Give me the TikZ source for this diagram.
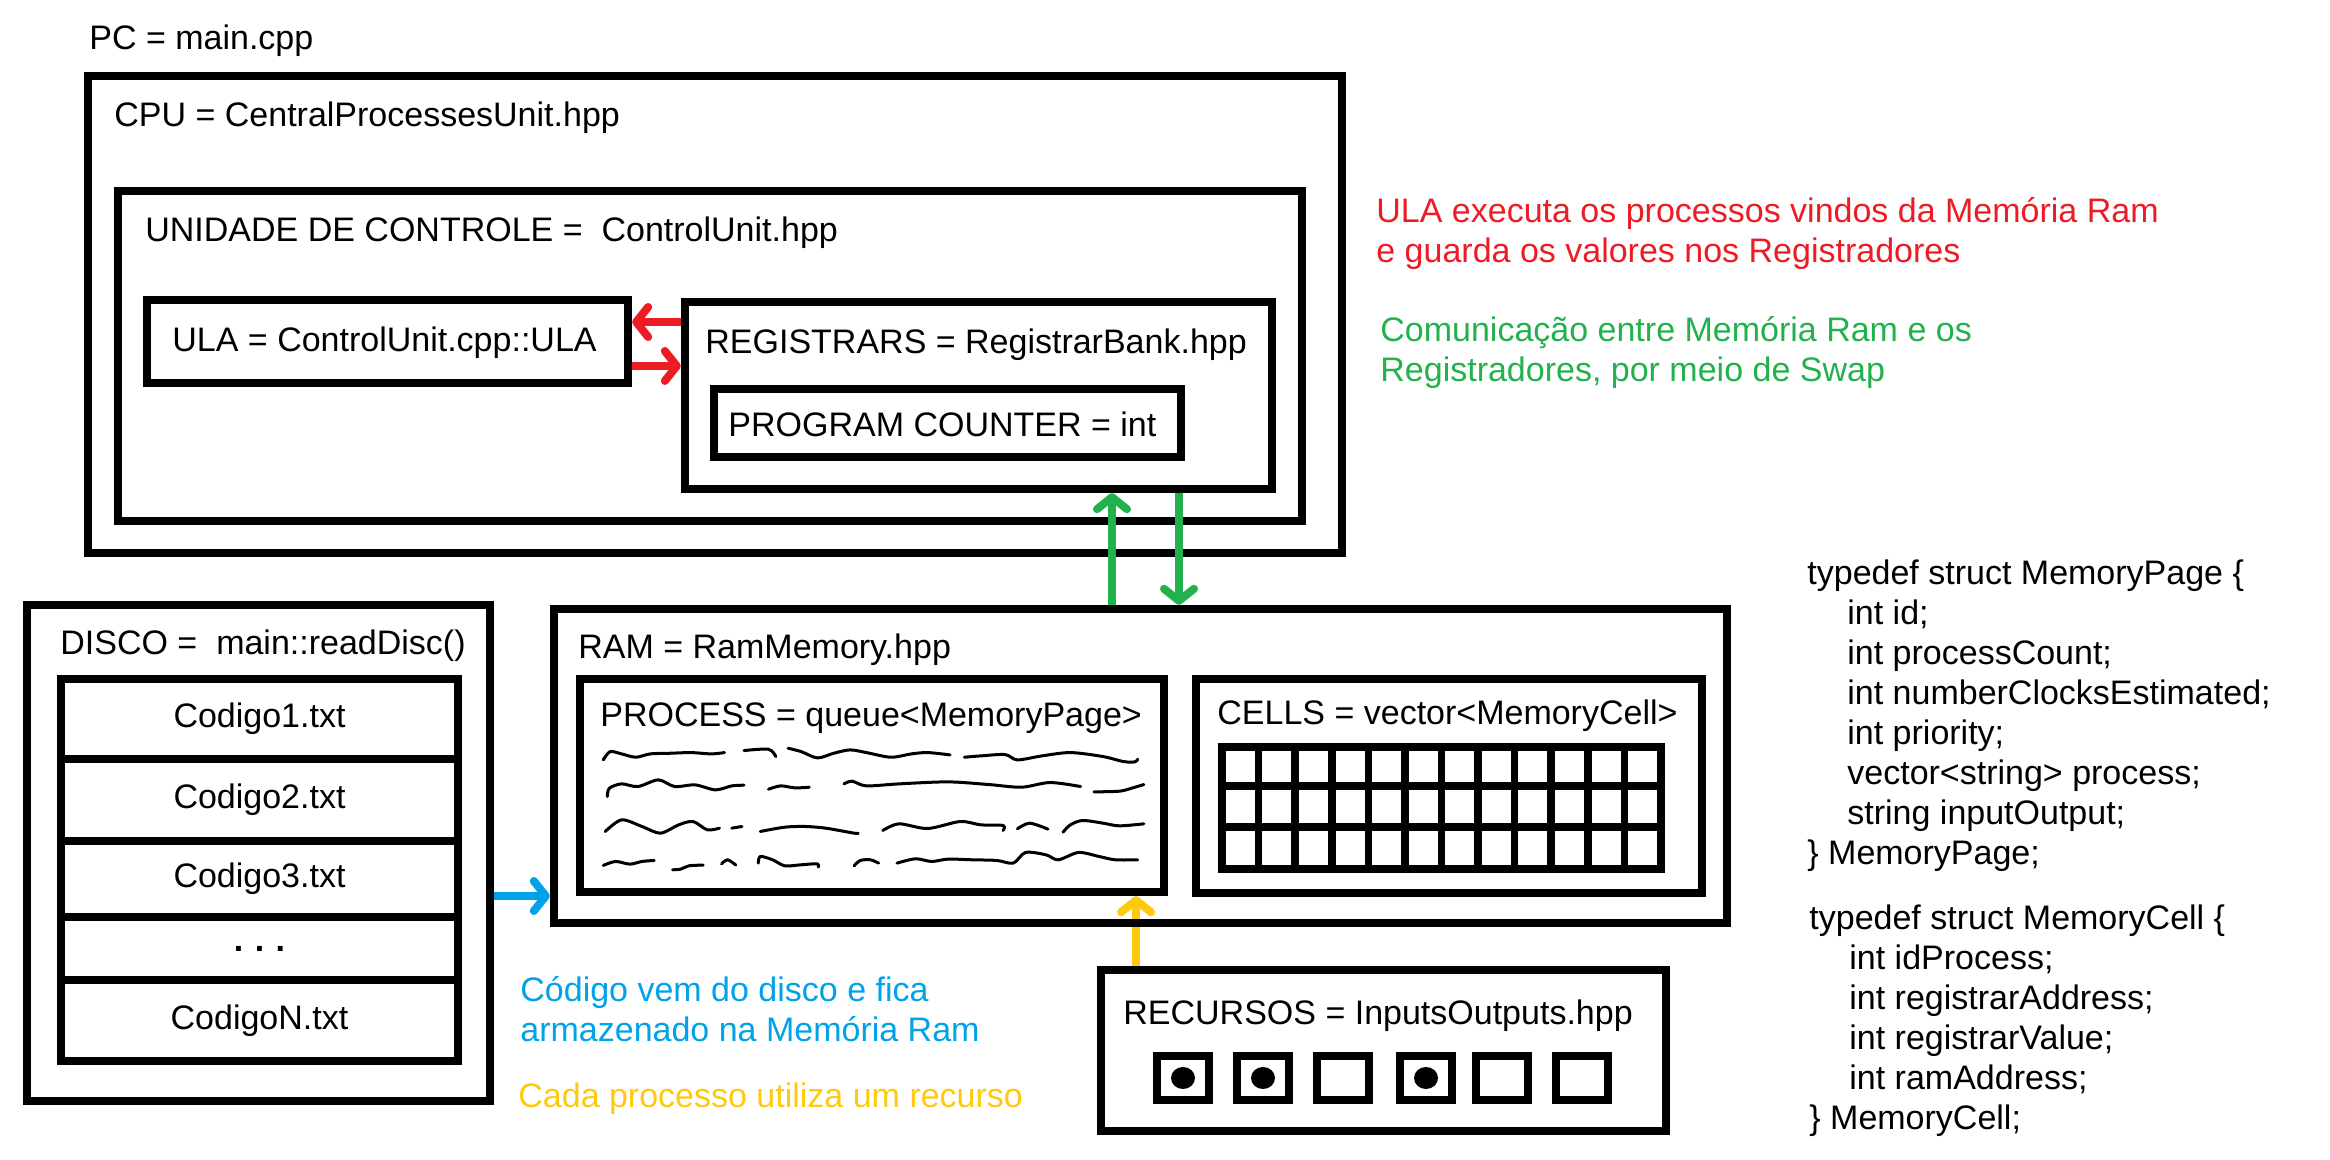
\documentclass[tikz,border=0pt]{standalone}
\usepackage{fontspec}
\setmainfont{Liberation Sans}
\usetikzlibrary{arrows.meta, fit, backgrounds, shapes.geometric}
\definecolor{paintRed}{HTML}{ED1C24}
\definecolor{paintGreen}{HTML}{22B14C}
\definecolor{paintBlue}{HTML}{00A2E8}
\definecolor{paintYellow}{HTML}{FFC90E}
\tikzset{
  box/.style={draw, line width=4.2pt, inner sep=0pt, font=\fontsize{17}{20}\selectfont},
  fileRow/.style={box, minimum width=198.5pt},
  lbl/.style={anchor=base west, inner sep=0pt, font=\fontsize{17}{20}\selectfont},
  note/.style={lbl, align=left},
  flow/.style={line width=4pt, -{Straight Barb[length=6pt,width=15pt,round]}},
  gridline/.style={line width=3.8pt},
  slot/.style={draw, line width=3.8pt, minimum width=26.25pt, minimum height=21.75pt, inner sep=0pt},
  dot/.style={fill, ellipse, minimum width=12pt, minimum height=11pt, inner sep=0pt},
  scribble/.style={line width=1.5pt, line cap=round, line join=round}
}

\begin{document}
\begin{tikzpicture}[x=0.5pt,y=-0.5pt]
  \useasboundingbox (0,0) rectangle (2330,1160);

  \node[lbl] (pcLabel) at (89,50) {PC = main.cpp};

  \node[box, fit={(88,76) (1342,553)}] (cpu) {};
  \node[lbl] (cpuLabel) at (114,127) {CPU = CentralProcessesUnit.hpp};

  \node[box, fit={(118,191) (1302,521)}] (cu) {};
  \node[lbl] (cuLabel) at (145,242) {UNIDADE DE CONTROLE = \ ControlUnit.hpp};

  \node[box, fit={(147,300) (628,383)}] (ula) {};
  \node[lbl] (ulaLabel) at (172,352) {ULA = ControlUnit.cpp::ULA};

  \node[box, fit={(685,302) (1272,489)}] (reg) {};
  \node[lbl] (regLabel) at (705,354) {REGISTRARS = RegistrarBank.hpp};

  \node[box, fit={(714,389) (1181,457)}] (pcnt) {};
  \node[lbl] (pcntLabel) at (728,437) {PROGRAM COUNTER = int};

  \node[box, fit={(27,605) (490,1101)}] (disco) {};
  \node[lbl] (discoLabel) at (60,654) {DISCO = \ main::readDisc()};

  \node[fileRow, minimum height=40pt] (f1) at (259.5,719) {Codigo1.txt};
  \node[fileRow, minimum height=41pt] (f2) at (259.5,800) {Codigo2.txt};
  \node[fileRow, minimum height=38pt] (f3) at (259.5,879) {Codigo3.txt};
  \node[fileRow, minimum height=31.5pt] (f4) at (259.5,948.5) {\textbf{.\,\,.\,\,.}};
  \node[fileRow, minimum height=40.5pt] (fN) at (259.5,1020.5) {CodigoN.txt};

  \node[box, fit={(554,609) (1727,923)}] (ram) {};
  \node[lbl] (ramLabel) at (578,658) {RAM = RamMemory.hpp};

  \node[box, fit={(580,679) (1164,892)}] (process) {};
  \node[lbl] (processLabel) at (600,726) {PROCESS = queue<MemoryPage>};

  \begin{scope}[shift={(540,660)}, xscale=0.408, yscale=0.333, scribble]
    \draw plot[smooth] coordinates {(155,300) (172,275) (200,282) (235,292) (270,282) (320,280) (370,278) (420,282) (452,278)};
    \draw plot[smooth] coordinates {(500,272) (560,268) (578,290)};
    \draw plot[smooth] coordinates {(608,265) (640,275) (680,294) (720,280) (760,270) (800,278) (860,292) (910,282) (950,278) (1005,285)};
    \draw plot[smooth] coordinates {(1040,292) (1080,288) (1140,284) (1170,300) (1230,288) (1300,278) (1380,290) (1430,305) (1458,306) (1465,298)};
    \draw plot[smooth] coordinates {(165,410) (170,385) (200,372) (240,380) (290,360) (330,380) (380,375) (430,390) (470,378) (500,376)};
    \draw plot[smooth] coordinates {(560,388) (590,378) (625,384) (660,382)};
    \draw plot[smooth] coordinates {(745,372) (765,364) (800,378) (880,372) (1000,366) (1100,374) (1180,382) (1250,368) (1325,380)};
    \draw plot[smooth] coordinates {(1358,396) (1420,394) (1450,385) (1480,374)};
    \draw plot[smooth] coordinates {(160,515) (200,480) (250,500) (295,520) (340,495) (375,485) (410,510) (440,505)};
    \draw plot[smooth] coordinates {(470,505) (495,500)};
    \draw plot[smooth] coordinates {(540,515) (600,502) (650,500) (700,505) (770,520) (780,520)};
    \draw plot[smooth] coordinates {(840,512) (880,492) (950,506) (1030,485) (1080,495) (1135,497) (1135,512)};
    \draw plot[smooth] coordinates {(1170,507) (1200,490) (1245,508)};
    \draw plot[smooth] coordinates {(1282,517) (1300,495) (1330,482) (1380,490) (1420,498) (1480,492)};
    \draw plot[smooth] coordinates {(155,617) (185,605) (220,613) (250,605) (280,602)};
    \draw plot[smooth] coordinates {(325,630) (345,628) (365,618) (400,616)};
    \draw plot[smooth] coordinates {(445,612) (460,600) (480,616)};
    \draw plot[smooth] coordinates {(535,610) (540,590) (570,600) (600,618) (640,615) (680,612) (682,622)};
    \draw plot[smooth] coordinates {(770,618) (785,602) (810,600) (830,610)};
    \draw plot[smooth] coordinates {(875,610) (920,597) (960,605) (1000,598) (1060,600) (1120,602) (1160,610) (1190,578) (1240,585) (1270,600) (1320,578) (1370,590) (1410,600) (1465,600)};
  \end{scope}

  \node[box, fit={(1196,679) (1702,893)}] (cells) {};
  \node[lbl] (cellsLabel) at (1217,724) {CELLS = vector<MemoryCell>};
  \draw[gridline] (1222,747) rectangle (1661,869);
  \foreach \i in {1,...,11}
    \draw[gridline] ({1222+36.58*\i},747) -- ({1222+36.58*\i},869);
  \foreach \y in {786,827}
    \draw[gridline] (1222,\y) -- (1661,\y);

  \node[box, fit={(1101,970) (1666,1131)}] (recursos) {};
  \node[lbl] (recLabel) at (1123,1024) {RECURSOS = InputsOutputs.hpp};
  \foreach \x [count=\i] in {1183,1263,1343,1426,1502,1582}
    \node[slot] (s\i) at (\x,1078) {};
  \foreach \i in {1,2,4}
    \node[dot] (d\i) at (s\i) {};

  \coordinate (aluIn) at (0,322);
  \coordinate (aluOut) at (0,366);
  \coordinate (swapUp) at (1112,0);
  \coordinate (swapDown) at (1179,0);
  \coordinate (loadY) at (0,896);
  \coordinate (useX) at (1136,0);

  \draw[flow, paintRed] (aluIn -| reg.west) -- (aluIn -| ula.east);
  \draw[flow, paintRed] (aluOut -| ula.east) -- (aluOut -| reg.west);
  \draw[flow, paintGreen] (ram.north -| swapUp) -- (reg.south -| swapUp);
  \draw[flow, paintGreen] (reg.south -| swapDown) -- (ram.north -| swapDown);
  \draw[flow, paintBlue] (loadY -| disco.east) -- (loadY -| ram.west);
  \begin{scope}[on background layer]
    \draw[flow, paintYellow] (recursos.north -| useX) -- (process.south -| useX);
  \end{scope}

  \node[note, text=paintRed] (aluNote) at (1376,263) {ULA executa os processos vindos da Memória Ram\\e guarda os valores nos Registradores};
  \node[note, text=paintGreen] (swapNote) at (1380,382) {Comunicação entre Memória Ram e os\\Registradores, por meio de Swap};
  \node[note, text=paintBlue] (loadNote) at (520,1041) {Código vem do disco e fica\\armazenado na Memória Ram};
  \node[lbl, text=paintYellow] (useNote) at (518,1107) {Cada processo utiliza um recurso};

  \node[note] (pageStruct) at (1807,864) {typedef struct MemoryPage \{\\
    \hspace*{20pt}int id;\\
    \hspace*{20pt}int processCount;\\
    \hspace*{20pt}int numberClocksEstimated;\\
    \hspace*{20pt}int priority;\\
    \hspace*{20pt}vector<string> process;\\
    \hspace*{20pt}string inputOutput;\\
    \} MemoryPage;};
  \node[note] (cellStruct) at (1809,1129) {typedef struct MemoryCell \{\\
    \hspace*{20pt}int idProcess;\\
    \hspace*{20pt}int registrarAddress;\\
    \hspace*{20pt}int registrarValue;\\
    \hspace*{20pt}int ramAddress;\\
    \} MemoryCell;};
\end{tikzpicture}
\end{document}
